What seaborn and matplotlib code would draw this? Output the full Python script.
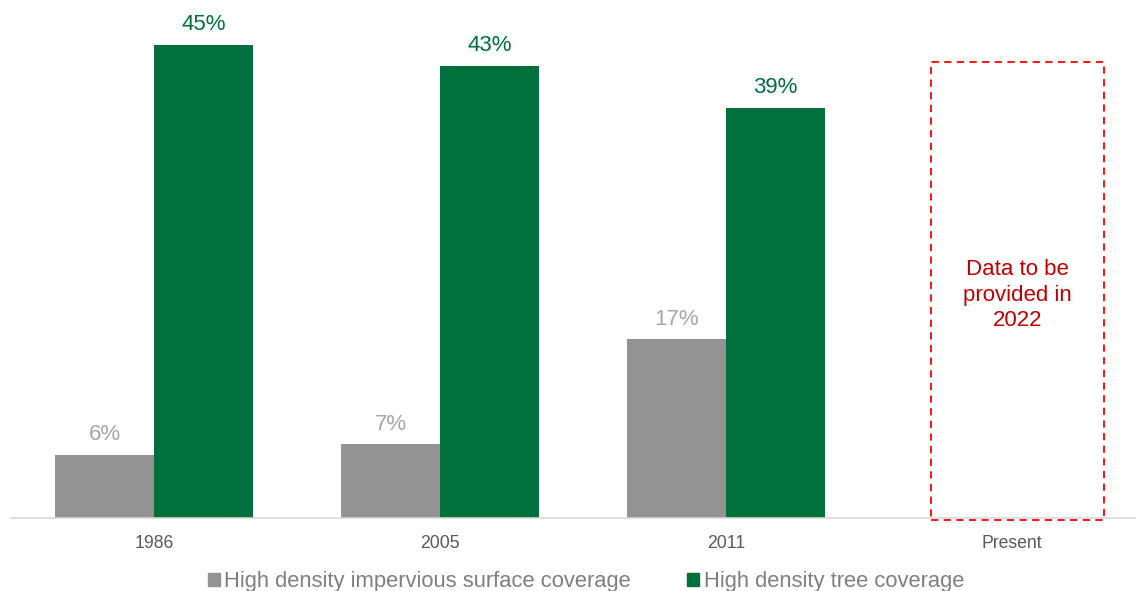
import numpy as np
import pandas as pd
import seaborn as sns
import matplotlib.pyplot as plt
from matplotlib.patches import Rectangle

# data
years = ["1986", "2005", "2011", "Present"]
impervious = [6, 7, 17, np.nan]
trees = [45, 43, 39, np.nan]
series = ["High density impervious surface coverage", "High density tree coverage"]
note = "Data to be\nprovided in\n2022"

GRAY = "#939393"
GREEN = "#00703C"
palette = {series[0]: GRAY, series[1]: GREEN}

df = pd.DataFrame({
    "year": years * 2,
    "value": impervious + trees,
    "series": [series[0]] * len(years) + [series[1]] * len(years),
})

sns.set_theme(style="white")
plt.rcParams["font.family"] = ["Liberation Sans", "DejaVu Sans"]

W, H = 1136, 591
fig = plt.figure(figsize=(W / 100, H / 100), dpi=100)
ax = fig.add_axes([11 / W, 73 / H, (1136 - 11) / W, (H - 73) / H])

sns.barplot(
    data=df, x="year", y="value", hue="series", order=years, hue_order=series,
    palette=palette, width=0.692, gap=0, saturation=1, ax=ax, legend=False,
    edgecolor="none",
)

ax.set_xlim(-0.5, (1136 - 11) / 286 - 0.5)
ax.set_ylim(0, 518 / 10.51)

# value labels
for cont, col in zip(ax.containers, [("#A6A6A6"), GREEN]):
    for bar in cont:
        h = bar.get_height()
        if np.isnan(h):
            continue
        ax.annotate(f"{h:.0f}%", (bar.get_x() + bar.get_width() / 2, h),
                    xytext=(0, 14.5), textcoords="offset points",
                    ha="center", va="center", fontsize=16, color=col)

# placeholder box for the present
ax.add_patch(Rectangle((2.717, -0.19), 0.605, 43.6, fill=False,
                       edgecolor="#FF0000", linestyle=(0, (4, 3)),
                       linewidth=1.3, clip_on=False, zorder=5))
ax.text(3.02, 21.2, note, ha="center", va="center", fontsize=16,
        color="#C00000", linespacing=1.28)

sns.despine(ax=ax, left=True)
ax.spines["bottom"].set_color("#D9D9D9")
ax.spines["bottom"].set_linewidth(1.2)
ax.set_yticks([])
ax.set_xlabel("")
ax.set_ylabel("")
ax.tick_params(axis="x", length=0, pad=12, labelsize=12.7, labelcolor="#595959")

handles = [plt.Rectangle((0, 0), 1, 1, color=palette[s]) for s in series]
fig.legend(handles, series, loc="center", bbox_to_anchor=(586 / W, 1 - 582 / H),
           ncol=2, frameon=False, fontsize=15.8, labelcolor="#7F7F7F",
           handlelength=0.55, handleheight=0.55, handletextpad=0.2,
           columnspacing=2.55)

fig.savefig("out.png", dpi=100)
